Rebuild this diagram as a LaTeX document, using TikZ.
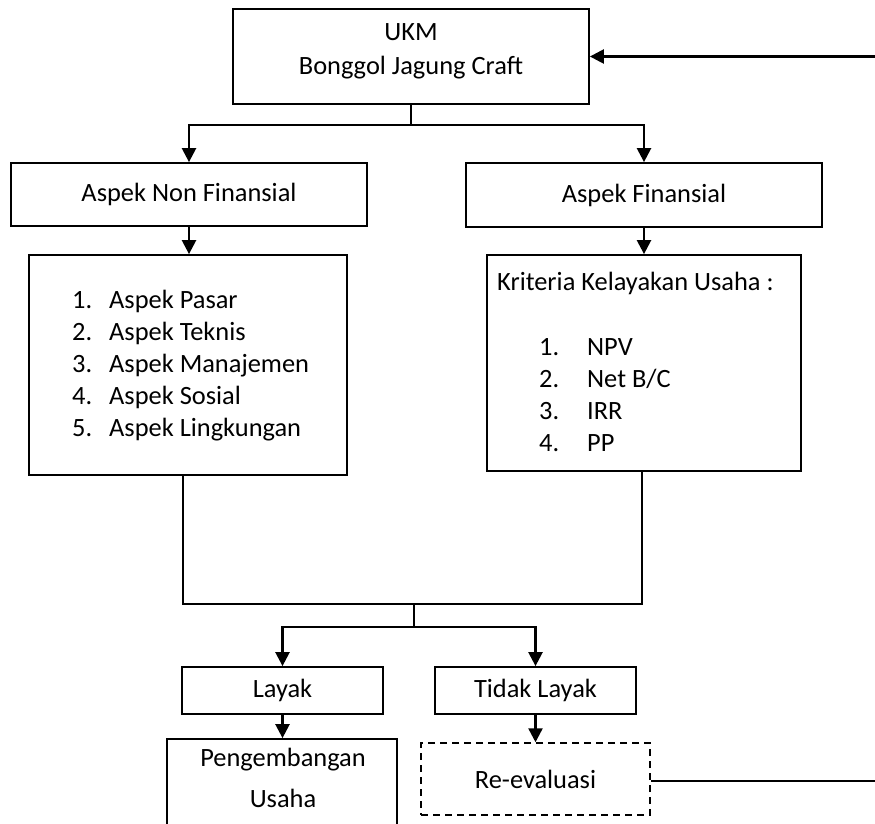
\documentclass[tikz,border=0pt]{standalone}
\usepackage{fontspec}
\setmainfont{Carlito}
\usetikzlibrary{arrows.meta}
\begin{document}
\begin{tikzpicture}[x=1pt,y=-1pt,
  box/.style={draw, line width=1.8pt, rectangle, inner sep=0pt, font=\fontsize{26.4}{32}\selectfont},
  txt/.style={inner sep=0pt, font=\fontsize{26.4}{32}\selectfont},
  ln/.style={line width=1.7pt},
  arr/.style={line width=2.4pt, -{Triangle[length=14pt,width=14pt]}}]
\clip (0,0) rectangle (875,823);
\path[use as bounding box] (0,0) rectangle (875,823);

% boxes
\node[box, minimum width=356pt, minimum height=95pt] (ukm) at (411,56.5) {};
\node[txt] (ukmt1) at (411,32) {UKM};
\node[txt] (ukmt2) at (411,68) {Bonggol Jagung Craft};

\node[box, minimum width=356pt, minimum height=63pt] (anf) at (189,194.5) {Aspek Non Finansial};
\node[box, minimum width=356pt, minimum height=64pt] (af) at (644,195) {Aspek Finansial};

\node[box, minimum width=318pt, minimum height=220pt] (nonlist) at (188,365) {};
\node[txt, anchor=west, align=left] (nonlistt) at (72,366)
  {\makebox[37pt][l]{1.}Aspek Pasar\\
   \makebox[37pt][l]{2.}Aspek Teknis\\
   \makebox[37pt][l]{3.}Aspek Manajemen\\
   \makebox[37pt][l]{4.}Aspek Sosial\\
   \makebox[37pt][l]{5.}Aspek Lingkungan};

\node[box, minimum width=314pt, minimum height=216pt] (finlist) at (644,363) {};
\node[txt, anchor=west] (kriteria) at (497,283) {Kriteria Kelayakan Usaha :};
\node[txt, anchor=west, align=left] (finlistt) at (539,395.5)
  {\makebox[48pt][l]{1.}NPV\\
   \makebox[48pt][l]{2.}Net B/C\\
   \makebox[48pt][l]{3.}IRR\\
   \makebox[48pt][l]{4.}PP};

\node[box, minimum width=201pt, minimum height=47pt] (layak) at (282.5,690.5) {Layak};
\node[box, minimum width=201pt, minimum height=47pt] (tidak) at (535.5,690.5) {Tidak Layak};

\node[box, minimum width=230pt, minimum height=100pt] (peng) at (282,789) {};
\node[txt] (pengt1) at (283,760) {Pengembangan};
\node[txt] (pengt2) at (283,798) {Usaha};

\node[box, line width=1.5pt, dash pattern=on 7pt off 5pt, minimum width=229pt, minimum height=72pt] (reeval) at (535.5,779) {Re-evaluasi};

% connectors
\coordinate (fbtop) at (875,56.5);
\draw[arr] (fbtop) -- (ukm.east);

\path (ukm.south) ++(0,20) coordinate (j1);
\draw[ln] (ukm.south) -- (j1);
\draw[arr] (j1) -| (anf.north);
\draw[arr] (j1) -| (af.north);

\draw[arr] (anf.south) -- (anf.south |- nonlist.north);
\draw[arr] (af.south) -- (af.south |- finlist.north);

\coordinate (j2) at (414,604);
\coordinate (j3) at (414,627);
\draw[ln] ([xshift=-5pt]nonlist.south) |- (j2) -| ([xshift=-2pt]finlist.south);
\draw[ln] (j2) -- (j3);
\draw[arr] (j3) -| (layak.north);
\draw[arr] (j3) -| (tidak.north);

\draw[arr] (layak.south) -- (layak.south |- peng.north);
\draw[arr] (tidak.south) -- (tidak.south |- reeval.north);

\coordinate (fbbot) at (875,781);
\draw[ln] (reeval.east |- fbbot) -- (fbbot);
\end{tikzpicture}
\end{document}
